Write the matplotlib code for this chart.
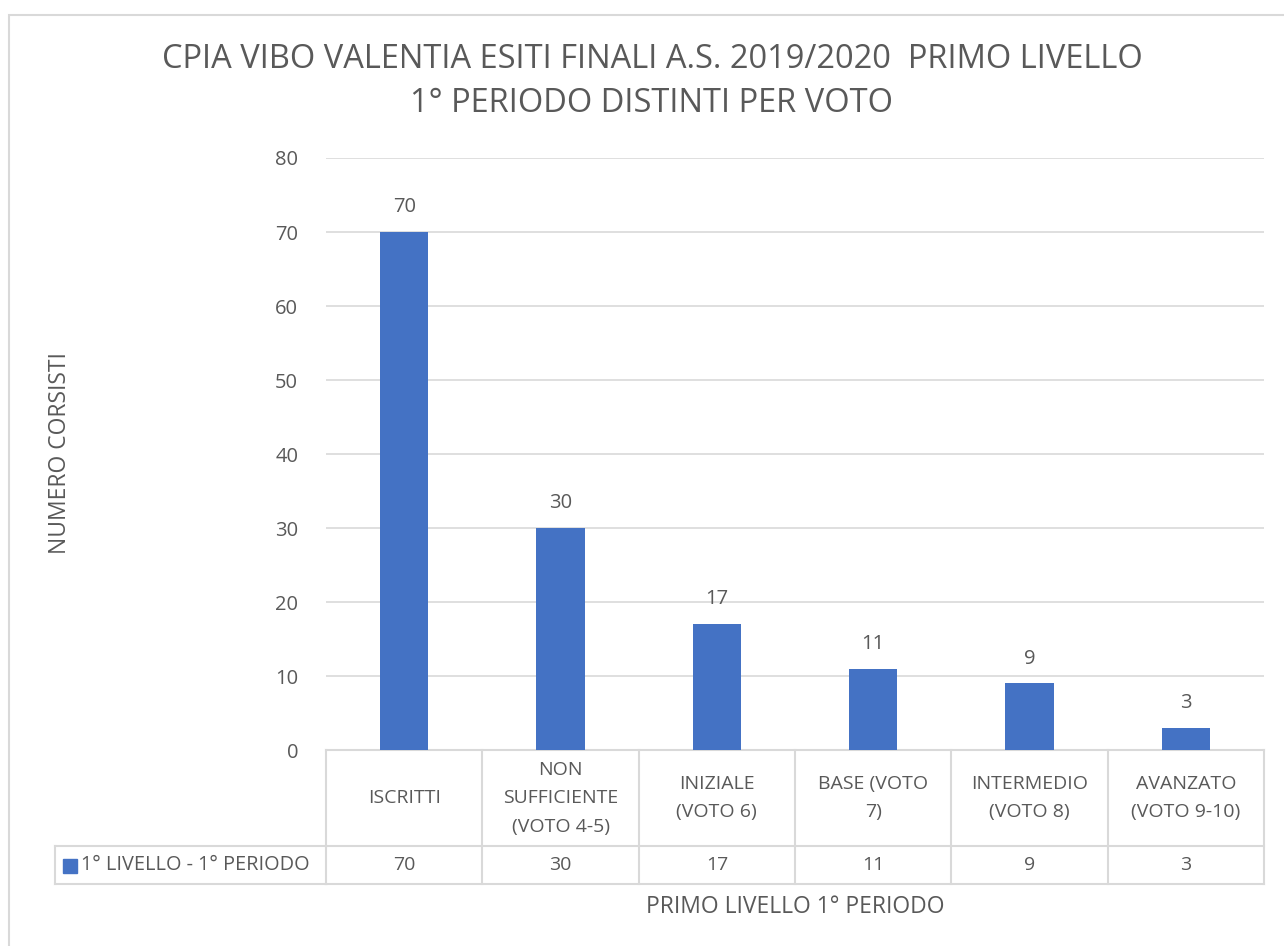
import matplotlib.pyplot as plt
from matplotlib.patches import Rectangle

plt.rcParams['font.family'] = ['Open Sans', 'DejaVu Sans']

categorie = ['ISCRITTI', 'NON\nSUFFICIENTE\n(VOTO 4-5)', 'INIZIALE\n(VOTO 6)',
             'BASE (VOTO\n7)', 'INTERMEDIO\n(VOTO 8)', 'AVANZATO\n(VOTO 9-10)']
valori = [70, 30, 17, 11, 9, 3]
serie = '1° LIVELLO - 1° PERIODO'
y_ticks = [0, 10, 20, 30, 40, 50, 60, 70, 80]

blu = '#4472C4'
testo = '#595959'
linea = '#D9D9D9'

W, H = 1284, 946
fig = plt.figure(figsize=(W / 100, H / 100), dpi=100)

# bordo del grafico
fig.patches.append(Rectangle((9 / W, -0.05), 1.1, 1 - 15 / H + 0.05,
                             transform=fig.transFigure, fill=False,
                             edgecolor=linea, linewidth=1.5))

ax = fig.add_axes([326 / W, 1 - 750 / H, (1264 - 326) / W, (750 - 158) / H])
x = list(range(len(categorie)))
ax.bar(x, valori, width=0.31, color=blu, zorder=3)
for xi, v in zip(x, valori):
    ax.text(xi, v + 2.0, str(v), ha='center', va='bottom', fontsize=14.5, color=testo)

ax.set_xlim(-0.5, len(categorie) - 0.5)
ax.set_ylim(0, 80)
ax.set_yticks(y_ticks)
ax.tick_params(axis='y', length=0, pad=20, labelsize=14.5, labelcolor=testo)
ax.set_xticks([])
ax.grid(axis='y', color=linea, linewidth=1.2, zorder=0)
for s in ax.spines.values():
    s.set_visible(False)

# tabella dati
tr = ax.get_xaxis_transform()
y_h = -96 / 592
y_d = -134 / 592
lw = 1.5
ax.plot([-0.5, 5.5], [0, 0], transform=tr, color=linea, lw=lw, clip_on=False)
ax.plot([-0.5, 5.5], [y_h, y_h], transform=tr, color=linea, lw=lw, clip_on=False)
ax.plot([-0.5, 5.5], [y_d, y_d], transform=tr, color=linea, lw=lw, clip_on=False)
for b in range(len(categorie) + 1):
    ax.plot([b - 0.5, b - 0.5], [0, y_d], transform=tr, color=linea, lw=lw, clip_on=False)
x_leg = (55 - 326) / 938
ax.plot([x_leg, 0], [y_h, y_h], transform=ax.transAxes, color=linea, lw=lw, clip_on=False)
ax.plot([x_leg, 0], [y_d, y_d], transform=ax.transAxes, color=linea, lw=lw, clip_on=False)
ax.plot([x_leg, x_leg], [y_h, y_d], transform=ax.transAxes, color=linea, lw=lw, clip_on=False)

for xi, (c, v) in enumerate(zip(categorie, valori)):
    ax.text(xi, y_h / 2, c, transform=tr, ha='center', va='center', fontsize=14,
            color=testo, linespacing=1.75)
    ax.text(xi, (y_h + y_d) / 2, str(v), transform=tr, ha='center', va='center',
            fontsize=14, color=testo)

ax.add_patch(Rectangle(((63 - 326) / 938, (y_h + y_d) / 2 - 0.013), 14 / 938, 14 / 592,
                       transform=ax.transAxes, color=blu, clip_on=False))
ax.text((81 - 326) / 938, (y_h + y_d) / 2, serie, transform=ax.transAxes,
        ha='left', va='center', fontsize=14.3, color=testo)

# titoli
fig.text(652 / W, 1 - 60 / H, 'CPIA VIBO VALENTIA ESITI FINALI A.S. 2019/2020  PRIMO LIVELLO',
         ha='center', va='center', fontsize=23.5, color=testo)
fig.text(652 / W, 1 - 103 / H, '1° PERIODO DISTINTI PER VOTO',
         ha='center', va='center', fontsize=23.5, color=testo)
fig.text(60 / W, 1 - 453 / H, 'NUMERO CORSISTI', rotation=90,
         ha='center', va='center', fontsize=16.5, color=testo)
fig.text(795 / W, 1 - 907 / H, 'PRIMO LIVELLO 1° PERIODO',
         ha='center', va='center', fontsize=16.5, color=testo)

fig.savefig('out.png', dpi=100, facecolor='white')
